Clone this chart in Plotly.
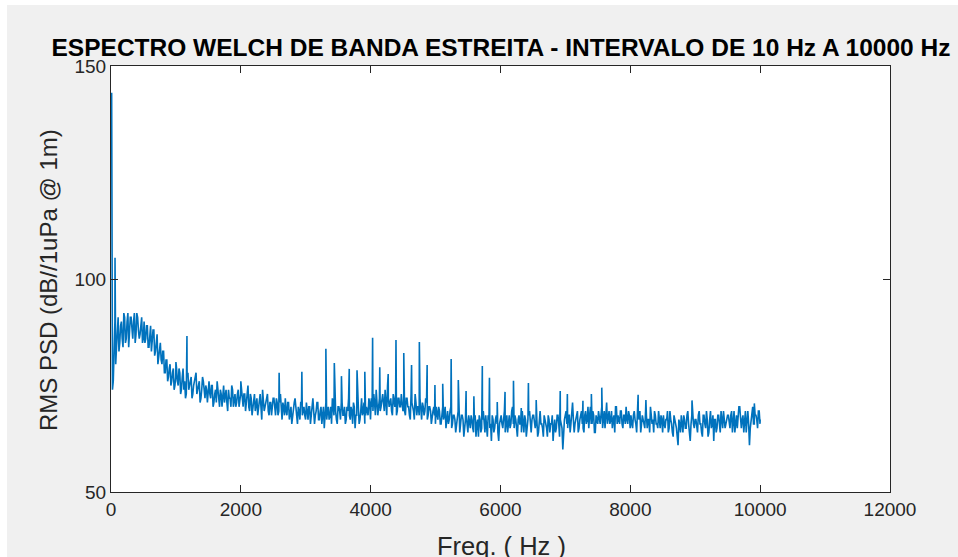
import plotly.graph_objects as go

# ---------------- data ----------------
freq_start = 10      # Hz, first bin
freq_step = 25       # Hz, bin spacing of the base spectrum

# spectrum level (dB//1uPa @ 1m) on the 25 Hz grid, 20 values per 500 Hz
psd_0_500 = [143.7, 76, 90, 84, 91, 85, 90, 84, 91, 86, 92, 87, 91, 86, 92, 87, 91, 86, 90, 85]
psd_500_1000 = [90, 86, 89, 84, 89, 85, 88, 83, 87, 82, 85, 80, 83, 78, 81, 77, 80, 76, 79, 75]
psd_1000_1500 = [79, 75, 78, 74, 79, 76, 73, 78, 75, 77, 73, 76, 78, 74, 76, 72, 77, 74, 75, 71]
psd_1500_2000 = [76, 72, 75, 71, 74, 76, 72, 74, 70, 75, 73, 71, 74, 72, 75, 70, 73, 71, 74, 72]
psd_2000_2500 = [74, 70, 73, 71, 75, 69, 72, 70, 73, 71, 68, 72, 70, 74, 69, 71, 73, 68, 71, 70]
psd_2500_3000 = [72, 68, 71, 69, 73, 67, 70, 72, 68, 71, 69, 66, 70, 72, 68, 70, 67, 71, 69, 68]
psd_3000_3500 = [71, 67, 70, 68, 72, 66, 69, 71, 67, 70, 68, 65, 71, 69, 67, 70, 72, 68, 69, 66]
psd_3500_4000 = [70, 67, 71, 68, 66, 70, 72, 67, 69, 71, 65, 68, 70, 67, 72, 69, 66, 70, 68, 71]
psd_4000_4500 = [72, 69, 71, 74, 68, 72, 70, 73, 69, 71, 75, 70, 72, 68, 71, 73, 69, 72, 70, 71]
psd_4500_5000 = [71, 68, 72, 70, 67, 71, 69, 73, 68, 70, 72, 67, 70, 69, 71, 68, 70, 66, 69, 68]
psd_5000_5500 = [70, 67, 69, 66, 70, 68, 65, 69, 67, 70, 66, 68, 64, 67, 69, 66, 68, 63, 67, 66]
psd_5500_6000 = [68, 65, 67, 64, 68, 66, 63, 67, 65, 69, 64, 66, 68, 65, 62, 67, 65, 68, 64, 66]
psd_6000_6500 = [68, 65, 69, 66, 64, 68, 66, 70, 65, 67, 63, 68, 66, 69, 64, 67, 65, 68, 66, 67]
psd_6500_7000 = [68, 65, 67, 64, 69, 66, 63, 67, 65, 68, 64, 66, 62, 67, 65, 68, 63, 66, 60, 67]
psd_7000_7500 = [69, 65, 68, 66, 71, 64, 67, 69, 65, 68, 66, 64, 69, 67, 65, 70, 66, 68, 64, 67]
psd_7500_8000 = [69, 66, 70, 67, 65, 71, 68, 66, 69, 67, 64, 70, 68, 66, 69, 65, 68, 70, 66, 68]
psd_8000_8500 = [68, 65, 69, 66, 70, 67, 64, 68, 66, 69, 65, 67, 70, 66, 64, 68, 66, 69, 65, 67]
psd_8500_9000 = [68, 65, 67, 64, 69, 66, 63, 67, 65, 61, 66, 68, 64, 67, 65, 69, 64, 66, 68, 65]
psd_9000_9500 = [67, 64, 69, 66, 63, 68, 65, 67, 64, 69, 66, 62, 67, 65, 68, 64, 66, 69, 65, 67]
psd_9500_10000 = [68, 65, 69, 66, 64, 68, 67, 70, 65, 68, 66, 64, 69, 61, 67, 70, 66, 68, 65, 69, 67]

# spectrum level at the half-step bins (22.5 Hz, 47.5 Hz, ...), 20 values per 500 Hz
mid_0_500 = [74, 88, 80, 87, 83, 89, 86, 92, 85, 90, 84, 91, 88, 90, 85, 92, 88, 87, 91, 86]
mid_500_1000 = [85, 89, 84, 87, 83, 88, 82, 86, 80, 84, 81, 83, 78, 81, 76, 79, 75, 78, 74, 77]
mid_1000_1500 = [76, 79, 73, 77, 74, 72, 77, 74, 76, 72, 75, 77, 73, 75, 71, 74, 76, 72, 74, 73]
mid_1500_2000 = [73, 75, 70, 73, 71, 74, 70, 73, 72, 71, 74, 69, 72, 70, 74, 72, 70, 73, 70, 73]
mid_2000_2500 = [71, 73, 69, 72, 70, 73, 68, 71, 69, 72, 70, 73, 67, 71, 70, 72, 69, 71, 68, 72]
mid_2500_3000 = [70, 72, 68, 71, 69, 71, 68, 69, 71, 67, 70, 68, 71, 69, 66, 69, 71, 68, 70, 67]
mid_3000_3500 = [68, 70, 66, 70, 69, 68, 71, 67, 69, 66, 70, 68, 67, 70, 68, 66, 70, 71, 67, 70]
mid_3500_4000 = [69, 71, 68, 70, 67, 69, 68, 70, 66, 70, 68, 71, 66, 69, 68, 71, 68, 69, 72, 67]
mid_4000_4500 = [70, 73, 68, 71, 70, 69, 72, 71, 74, 68, 72, 71, 69, 73, 70, 68, 72, 70, 73, 69]
mid_4500_5000 = [69, 72, 70, 68, 73, 70, 67, 71, 70, 68, 69, 71, 68, 72, 67, 70, 69, 68, 70, 66]
mid_5000_5500 = [68, 70, 66, 68, 67, 70, 67, 66, 69, 65, 68, 67, 66, 69, 64, 68, 67, 65, 68, 64]
mid_5500_6000 = [66, 68, 65, 67, 63, 67, 68, 64, 67, 66, 68, 63, 67, 66, 68, 64, 67, 66, 62, 67]
mid_6000_6500 = [66, 67, 64, 68, 67, 65, 69, 66, 68, 64, 67, 66, 64, 67, 68, 63, 67, 69, 64, 68]
mid_6500_7000 = [66, 67, 63, 68, 66, 65, 68, 66, 63, 67, 66, 68, 65, 64, 68, 66, 67, 65, 64, 68]
mid_7000_7500 = [66, 68, 64, 69, 67, 66, 68, 64, 67, 69, 65, 68, 66, 70, 68, 66, 69, 64, 68, 66]
mid_7500_8000 = [67, 68, 65, 69, 68, 66, 69, 67, 65, 68, 70, 66, 67, 69, 66, 68, 66, 67, 69, 65]
mid_8000_8500 = [66, 68, 67, 64, 68, 69, 66, 67, 65, 68, 67, 64, 68, 67, 69, 66, 65, 67, 68, 64]
mid_8500_9000 = [66, 67, 69, 65, 67, 64, 68, 66, 63, 67, 64, 66, 68, 65, 68, 66, 62, 68, 66, 67]
mid_9000_9500 = [65, 68, 66, 64, 68, 66, 69, 63, 67, 65, 68, 67, 64, 68, 66, 69, 65, 67, 66, 68]
mid_9500_10000 = [66, 68, 64, 69, 67, 65, 70, 66, 67, 64, 69, 67, 66, 65, 69, 66, 68, 67, 69, 66]

# narrow tonal lines (frequency in Hz, level in dB)
tone_freqs = [62, 1000, 1170, 2000, 2590, 2940, 3310, 3440, 3550, 3670, 3790, 3910,
              4030, 4140, 4270, 4390, 4510, 4630, 4750, 4870, 4990, 5110, 5240, 5350,
              5470, 5590, 5720, 5830, 5950, 6070, 6200, 6320, 6430, 6550,
              6920, 7030, 7270, 7400, 7560, 8120, 8240, 8950, 9910]
tone_levels = [105, 80.5, 86.6, 76, 78, 78.2, 83.6, 80.3, 77.2, 78.9, 78.6, 78.2,
               86.2, 79.3, 77.7, 85.7, 82.6, 79.8, 85.2, 79.8, 75.1, 75.4, 81.2, 76.3,
               73.7, 72.5, 79.6, 76.8, 71.1, 73.5, 76.1, 69.7, 75.6, 71.6,
               73.7, 73, 71.4, 73, 74.5, 72.8, 71.6, 71.5, 70.8]

title_text = "ESPECTRO WELCH DE BANDA ESTREITA - INTERVALO DE 10 Hz A 10000 Hz"
x_label = "Freq. ( Hz )"
y_label = "RMS PSD (dB//1uPa @ 1m)"
x_ticks = [0, 2000, 4000, 6000, 8000, 10000, 12000]
y_ticks = [50, 100, 150]

# ---------------- assemble series ----------------
base = (psd_0_500 + psd_500_1000 + psd_1000_1500 + psd_1500_2000 + psd_2000_2500 +
        psd_2500_3000 + psd_3000_3500 + psd_3500_4000 + psd_4000_4500 + psd_4500_5000 +
        psd_5000_5500 + psd_5500_6000 + psd_6000_6500 + psd_6500_7000 + psd_7000_7500 +
        psd_7500_8000 + psd_8000_8500 + psd_8500_9000 + psd_9000_9500 + psd_9500_10000)
mids = (mid_0_500 + mid_500_1000 + mid_1000_1500 + mid_1500_2000 + mid_2000_2500 +
        mid_2500_3000 + mid_3000_3500 + mid_3500_4000 + mid_4000_4500 + mid_4500_5000 +
        mid_5000_5500 + mid_5500_6000 + mid_6000_6500 + mid_6500_7000 + mid_7000_7500 +
        mid_7500_8000 + mid_8000_8500 + mid_8500_9000 + mid_9000_9500 + mid_9500_10000)
base_freqs = [freq_start + freq_step * i for i in range(len(base))]
base_freqs[-1] = 10000
mid_freqs = [freq_start + freq_step * (i + 0.5) for i in range(len(mids))]

points = (list(zip(base_freqs, base)) + list(zip(mid_freqs, mids)) +
          list(zip(tone_freqs, tone_levels)))
points.sort(key=lambda p: p[0])
fx = [p[0] for p in points]
fy = [p[1] for p in points]

# ---------------- figure ----------------
W, H = 958, 557
L, R, T, B = 111, 890, 66, 492
pw, ph = R - L, B - T

def px(x):
    return (x - L) / pw

def py(y):
    return (B - y) / ph

fig = go.Figure()
fig.add_trace(go.Scatter(x=fx, y=fy, mode="lines",
                         line=dict(color="#0072BD", width=1.6),
                         hoverinfo="skip", showlegend=False))

bg = "#f0f0f0"
shapes = [
    dict(type="rect", xref="paper", yref="paper", x0=px(7), x1=px(L), y0=py(H + 5), y1=py(5),
         fillcolor=bg, line_width=0, layer="below"),
    dict(type="rect", xref="paper", yref="paper", x0=px(R), x1=px(W + 5), y0=py(H + 5), y1=py(5),
         fillcolor=bg, line_width=0, layer="below"),
    dict(type="rect", xref="paper", yref="paper", x0=px(L), x1=px(R), y0=py(T), y1=py(5),
         fillcolor=bg, line_width=0, layer="below"),
    dict(type="rect", xref="paper", yref="paper", x0=px(L), x1=px(R), y0=py(H + 5), y1=py(B),
         fillcolor=bg, line_width=0, layer="below"),
]

axis_col = "#262626"
font_fam = "Liberation Sans, Arial, Helvetica, sans-serif"

fig.update_layout(
    width=W, height=H,
    margin=dict(l=L, r=W - R, t=T, b=H - B, pad=0),
    paper_bgcolor="white",
    plot_bgcolor="white",
    font=dict(family=font_fam, color=axis_col),
    shapes=shapes,
    title=dict(text="<b>" + title_text + "</b>", x=501 / W,
               xanchor="center", y=1 - 47.5 / H, yanchor="middle", yref="container",
               font=dict(family=font_fam, size=24.5, color="black")),
    annotations=[
        dict(text=x_label, xref="paper", yref="paper", x=px(501), y=py(546),
             xanchor="center", yanchor="middle", showarrow=False,
             font=dict(size=25.5, color=axis_col)),
        dict(text=y_label, xref="paper", yref="paper", x=px(48), y=py(280),
             xanchor="center", yanchor="middle", showarrow=False, textangle=-90,
             font=dict(size=24, color=axis_col)),
    ],
)

fig.update_xaxes(range=[0, 12000], tickvals=x_ticks, ticktext=[str(v) for v in x_ticks],
                 showgrid=False, zeroline=False, showline=True, linecolor=axis_col, linewidth=1,
                 mirror="ticks", ticks="inside", ticklen=7, tickcolor=axis_col,
                 tickfont=dict(size=19, color=axis_col))
fig.update_yaxes(range=[50, 150], tickvals=y_ticks, ticktext=[str(v) for v in y_ticks],
                 showgrid=False, zeroline=False, showline=True, linecolor=axis_col, linewidth=1,
                 mirror="ticks", ticks="inside", ticklen=7, tickcolor=axis_col,
                 tickfont=dict(size=19, color=axis_col))

fig.write_html("out.html")
